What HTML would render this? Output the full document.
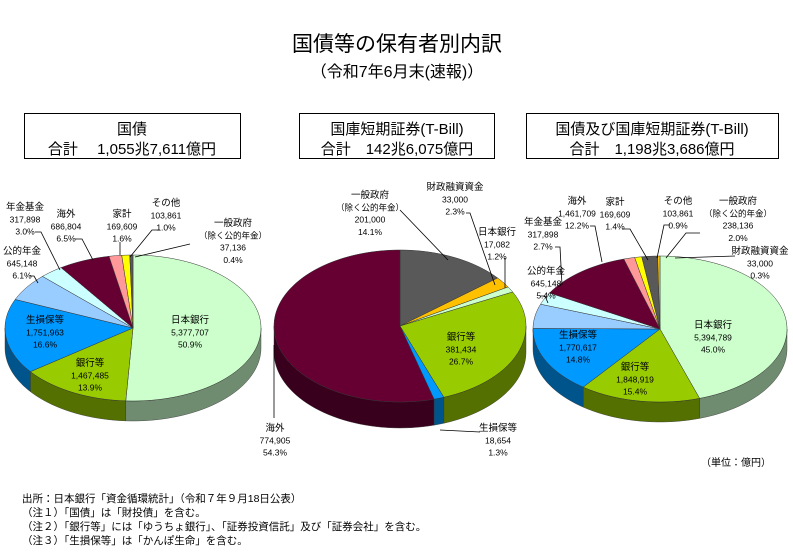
<!DOCTYPE html>
<html><head><meta charset="utf-8"><style>
body{margin:0;background:#fff;width:793px;height:550px;overflow:hidden;font-family:"Liberation Sans","Noto Sans CJK JP",sans-serif;}
svg text{font-family:"Liberation Sans","Noto Sans CJK JP",sans-serif;}
</style></head><body>
<svg id="s" width="793" height="550" xmlns="http://www.w3.org/2000/svg">
<text x="397" y="51" font-size="21" text-anchor="middle">国債等の保有者別内訳</text>
<text x="397" y="77" font-size="16" text-anchor="middle">（令和7年6月末(速報)）</text>
<rect x="24.5" y="113.5" width="216" height="45" fill="none" stroke="#000"/>
<text x="132" y="134" font-size="15" text-anchor="middle">国債</text>
<text x="132" y="154" font-size="15" text-anchor="middle">合計　 1,055兆7,611億円</text>
<rect x="299.5" y="113.5" width="195" height="45" fill="none" stroke="#000"/>
<text x="397" y="134" font-size="15" text-anchor="middle">国庫短期証券(T-Bill)</text>
<text x="397" y="154" font-size="15" text-anchor="middle">合計　142兆6,075億円</text>
<rect x="526.5" y="113.5" width="252" height="45" fill="none" stroke="#000"/>
<text x="652" y="134" font-size="15" text-anchor="middle">国債及び国庫短期証券(T-Bill)</text>
<text x="652" y="154" font-size="15" text-anchor="middle">合計　1,198兆3,686億円</text>
<g id="pies"></g>
<g id="lines" stroke="#000" fill="none" stroke-width="0.8">
<polyline points="35,232 41,232 60,270"/>
<polyline points="75,239 82,239 93,260"/>
<polyline points="120,242 120,255"/>
<polyline points="160,230 152,230 130,257"/>
<polyline points="190,244 135,257"/>
<polyline points="30,276 34,276 38,283"/>
<polyline points="400,210 448,260"/>
<polyline points="466,213 470,213 495,285"/>
<polyline points="505,258 505,288"/>
<polyline points="480,432 440,430"/>
<polyline points="274,418 274,345"/>
<polyline points="590,226 595,226 602,262"/>
<polyline points="622,229 630,229 648,260"/>
<polyline points="670,225 664,225 657,258"/>
<polyline points="700,233 686,233 666,258"/>
<polyline points="735,256 675,258"/>
<polyline points="555,247 560,247 562,285"/>
<polyline points="540,296 545,296 548,303"/>
</g>
<g id="lab" font-size="8.5" text-anchor="middle"></g>
<text x="736" y="466" font-size="10" text-anchor="middle">（単位：億円）</text>
<text x="22" y="502" font-size="10.5">出所：日本銀行「資金循環統計」（令和７年９月18日公表）</text>
<text x="22" y="516" font-size="10.5">（注１）「国債」は「財投債」を含む。</text>
<text x="22" y="530" font-size="10.5">（注２）「銀行等」には「ゆうちょ銀行」、「証券投資信託」及び「証券会社」を含む。</text>
<text x="22" y="544" font-size="10.5">（注３）「生損保等」は「かんぽ生命」を含む。</text>
</svg>
<script>
const C={boj:"#ccffcc",bank:"#99cc00",ins:"#0099ff",pub:"#99ccff",pen:"#ccffff",ov:"#660033",hh:"#ff9999",oth:"#ffff00",gov:"#595959",fil:"#ffc000"};
function dark(h,f){let n=parseInt(h.slice(1),16);let r=(n>>16)*f|0,g=((n>>8)&255)*f|0,b=(n&255)*f|0;return `rgb(${r},${g},${b})`;}
const NS="http://www.w3.org/2000/svg";const G=document.getElementById("pies");
function pie(cx,cy,rx,ry,d,sl){
 let tot=sl.reduce((a,b)=>a+b[1],0),a=0,arr=[];
 sl.forEach(s=>{let a1=a+s[1]/tot*2*Math.PI;arr.push([a,a1,s[0]]);a=a1;});
 const P=(t,dy)=>[cx+rx*Math.sin(t),cy-ry*Math.cos(t)+dy];
 let side="",top="";
 arr.forEach(([a0,a1,c])=>{
  // side: front half angles between pi/2 and 3pi/2
  let s0=Math.max(a0,Math.PI/2),s1=Math.min(a1,3*Math.PI/2);
  if(s1>s0){let pts=[],n=40;
   for(let i=0;i<=n;i++)pts.push(P(s0+(s1-s0)*i/n,0));
   for(let i=n;i>=0;i--)pts.push(P(s0+(s1-s0)*i/n,d));
   side+=`<polygon points="${pts.map(p=>p.join(",")).join(" ")}" fill="${dark(C[c],0.55)}" stroke="#333" stroke-width="0.4"/>`;}
  let pts=[[cx,cy]],n=Math.max(2,Math.ceil((a1-a0)*30));
  for(let i=0;i<=n;i++)pts.push(P(a0+(a1-a0)*i/n,0));
  top+=`<polygon points="${pts.map(p=>p.join(",")).join(" ")}" fill="${C[c]}" stroke="#333" stroke-width="0.5"/>`;
 });
 G.innerHTML+=side+top;
}
pie(133,328,128,73,20,[["boj",50.9],["bank",13.9],["ins",16.6],["pub",6.1],["pen",3.0],["ov",6.5],["hh",1.6],["oth",1.0],["gov",0.4]]);
pie(400,326,126,76,26,[["gov",14.1],["fil",2.3],["boj",1.2],["bank",26.7],["ins",1.3],["ov",54.3]]);
pie(660,329,127,73,20,[["boj",45.0],["bank",15.4],["ins",14.8],["pub",5.4],["pen",2.7],["ov",12.2],["hh",1.4],["oth",0.9],["gov",2.0],["fil",0.3]]);
const L=[
[25,207,["年金基金","317,898","3.0%"]],[66,214,["海外","686,804","6.5%"]],[122,214,["家計","169,609","1.6%"]],
[166,203,["その他","103,861","1.0%"]],[233,223,["一般政府","（除く公的年金）","37,136","0.4%"]],
[22,251,["公的年金","645,148","6.1%"]],[45,320,["生損保等","1,751,963","16.6%"]],[90,363,["銀行等","1,467,485","13.9%"]],[190,320,["日本銀行","5,377,707","50.9%"]],
[370,195,["一般政府","（除く公的年金）","201,000","14.1%"]],[455,187,["財政融資資金","33,000","2.3%"]],[497,232,["日本銀行","17,082","1.2%"]],
[461,337,["銀行等","381,434","26.7%"]],[498,428,["生損保等","18,654","1.3%"]],[275,428,["海外","774,905","54.3%"]],
[577,201,["海外","1,461,709","12.2%"]],[615,202,["家計","169,609","1.4%"]],[678,201,["その他","103,861","0.9%"]],
[738,201,["一般政府","（除く公的年金）","238,136","2.0%"]],[760,251,["財政融資資金","33,000","0.3%"]],
[543,222,["年金基金","317,898","2.7%"]],[546,271,["公的年金","645,148","5.4%"]],[578,335,["生損保等","1,770,617","14.8%"]],
[635,367,["銀行等","1,848,919","15.4%"]],[713,325,["日本銀行","5,394,789","45.0%"]]];
let h="";L.forEach(([x,y,t])=>t.forEach((s,i)=>{h+=`<text x="${x}" y="${y+3+i*12.3}"${i==0?' font-size="9.5"':''}>${s}</text>`;}));
document.getElementById("lab").innerHTML=h;
</script>
</body></html>
